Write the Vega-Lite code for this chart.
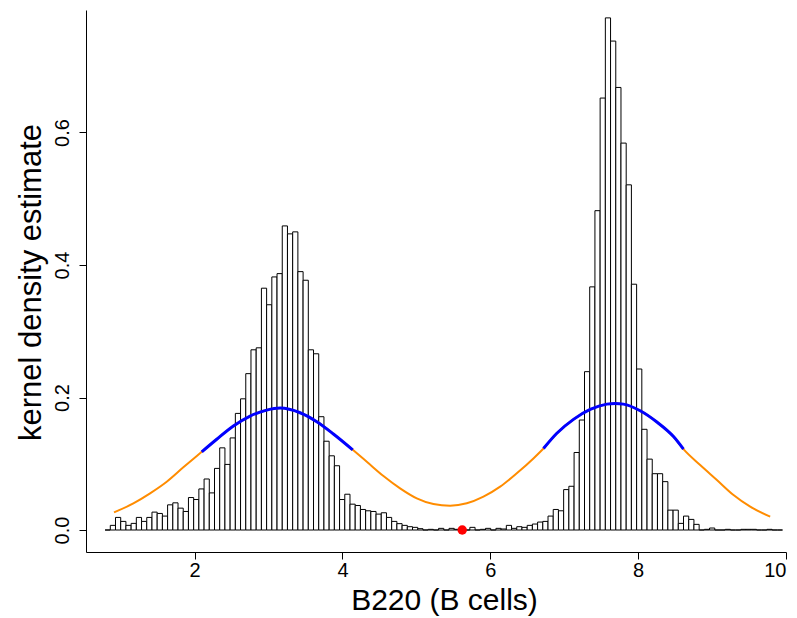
{
  "$schema": "https://vega.github.io/schema/vega-lite/v6.json",
  "width": 700,
  "height": 542,
  "autosize": {"type": "none"},
  "padding": {"left": 86, "top": 10, "right": 11, "bottom": 66},
  "background": "white",
  "config": {
    "view": {"stroke": null},
    "font": "Liberation Sans",
    "axis": {
      "domainColor": "black",
      "tickColor": "black",
      "labelColor": "black",
      "titleColor": "black",
      "labelFont": "Liberation Sans",
      "titleFont": "Liberation Sans",
      "titleFontWeight": "normal",
      "grid": false,
      "tickSize": 7,
      "domainWidth": 1,
      "tickWidth": 1
    }
  },
  "datasets": {
    "bins": [
      {"b0": 0.7880, "b1": 0.8585, "d": 0},
      {"b0": 0.8585, "b1": 0.9290, "d": 0.007},
      {"b0": 0.9290, "b1": 0.9995, "d": 0.019},
      {"b0": 0.9995, "b1": 1.0700, "d": 0.013},
      {"b0": 1.0700, "b1": 1.1405, "d": 0.007},
      {"b0": 1.1405, "b1": 1.2110, "d": 0.010},
      {"b0": 1.2110, "b1": 1.2815, "d": 0.019},
      {"b0": 1.2815, "b1": 1.3520, "d": 0.013},
      {"b0": 1.3520, "b1": 1.4225, "d": 0.019},
      {"b0": 1.4225, "b1": 1.4930, "d": 0.027},
      {"b0": 1.4930, "b1": 1.5635, "d": 0.025},
      {"b0": 1.5635, "b1": 1.6340, "d": 0.021},
      {"b0": 1.6340, "b1": 1.7045, "d": 0.038},
      {"b0": 1.7045, "b1": 1.7750, "d": 0.041},
      {"b0": 1.7750, "b1": 1.8455, "d": 0.033},
      {"b0": 1.8455, "b1": 1.9160, "d": 0.028},
      {"b0": 1.9160, "b1": 1.9865, "d": 0.049},
      {"b0": 1.9865, "b1": 2.0570, "d": 0.046},
      {"b0": 2.0570, "b1": 2.1275, "d": 0.062},
      {"b0": 2.1275, "b1": 2.1980, "d": 0.077},
      {"b0": 2.1980, "b1": 2.2685, "d": 0.056},
      {"b0": 2.2685, "b1": 2.3390, "d": 0.093},
      {"b0": 2.3390, "b1": 2.4095, "d": 0.124},
      {"b0": 2.4095, "b1": 2.4800, "d": 0.099},
      {"b0": 2.4800, "b1": 2.5505, "d": 0.139},
      {"b0": 2.5505, "b1": 2.6210, "d": 0.176},
      {"b0": 2.6210, "b1": 2.6915, "d": 0.198},
      {"b0": 2.6915, "b1": 2.7620, "d": 0.236},
      {"b0": 2.7620, "b1": 2.8325, "d": 0.272},
      {"b0": 2.8325, "b1": 2.9030, "d": 0.275},
      {"b0": 2.9030, "b1": 2.9735, "d": 0.365},
      {"b0": 2.9735, "b1": 3.0440, "d": 0.340},
      {"b0": 3.0440, "b1": 3.1145, "d": 0.382},
      {"b0": 3.1145, "b1": 3.1850, "d": 0.387},
      {"b0": 3.1850, "b1": 3.2555, "d": 0.459},
      {"b0": 3.2555, "b1": 3.3260, "d": 0.447},
      {"b0": 3.3260, "b1": 3.3965, "d": 0.450},
      {"b0": 3.3965, "b1": 3.4670, "d": 0.390},
      {"b0": 3.4670, "b1": 3.5375, "d": 0.377},
      {"b0": 3.5375, "b1": 3.6080, "d": 0.272},
      {"b0": 3.6080, "b1": 3.6785, "d": 0.266},
      {"b0": 3.6785, "b1": 3.7490, "d": 0.171},
      {"b0": 3.7490, "b1": 3.8195, "d": 0.134},
      {"b0": 3.8195, "b1": 3.8900, "d": 0.112},
      {"b0": 3.8900, "b1": 3.9605, "d": 0.097},
      {"b0": 3.9605, "b1": 4.0310, "d": 0.046},
      {"b0": 4.0310, "b1": 4.1015, "d": 0.054},
      {"b0": 4.1015, "b1": 4.1720, "d": 0.039},
      {"b0": 4.1720, "b1": 4.2425, "d": 0.037},
      {"b0": 4.2425, "b1": 4.3130, "d": 0.031},
      {"b0": 4.3130, "b1": 4.3835, "d": 0.029},
      {"b0": 4.3835, "b1": 4.4540, "d": 0.028},
      {"b0": 4.4540, "b1": 4.5245, "d": 0.024},
      {"b0": 4.5245, "b1": 4.5950, "d": 0.026},
      {"b0": 4.5950, "b1": 4.6655, "d": 0.019},
      {"b0": 4.6655, "b1": 4.7360, "d": 0.013},
      {"b0": 4.7360, "b1": 4.8065, "d": 0.0096},
      {"b0": 4.8065, "b1": 4.8770, "d": 0.007},
      {"b0": 4.8770, "b1": 4.9475, "d": 0.005},
      {"b0": 4.9475, "b1": 5.0180, "d": 0.004},
      {"b0": 5.0180, "b1": 5.0885, "d": 0.002},
      {"b0": 5.0885, "b1": 5.1590, "d": 0},
      {"b0": 5.1590, "b1": 5.2295, "d": 0.001},
      {"b0": 5.2295, "b1": 5.3000, "d": 0},
      {"b0": 5.3000, "b1": 5.3705, "d": 0.0025},
      {"b0": 5.3705, "b1": 5.4410, "d": 0},
      {"b0": 5.4410, "b1": 5.5115, "d": 0.0025},
      {"b0": 5.5115, "b1": 5.5820, "d": 0.001},
      {"b0": 5.5820, "b1": 5.6525, "d": 0},
      {"b0": 5.6525, "b1": 5.7230, "d": 0},
      {"b0": 5.7230, "b1": 5.7935, "d": 0.004},
      {"b0": 5.7935, "b1": 5.8640, "d": 0},
      {"b0": 5.8640, "b1": 5.9345, "d": 0.001},
      {"b0": 5.9345, "b1": 6.0050, "d": 0.0025},
      {"b0": 6.0050, "b1": 6.0755, "d": 0},
      {"b0": 6.0755, "b1": 6.1460, "d": 0.0025},
      {"b0": 6.1460, "b1": 6.2165, "d": 0.0015},
      {"b0": 6.2165, "b1": 6.2870, "d": 0.007},
      {"b0": 6.2870, "b1": 6.3575, "d": 0.0025},
      {"b0": 6.3575, "b1": 6.4280, "d": 0.005},
      {"b0": 6.4280, "b1": 6.4985, "d": 0.004},
      {"b0": 6.4985, "b1": 6.5690, "d": 0.007},
      {"b0": 6.5690, "b1": 6.6395, "d": 0.009},
      {"b0": 6.6395, "b1": 6.7100, "d": 0.012},
      {"b0": 6.7100, "b1": 6.7805, "d": 0.013},
      {"b0": 6.7805, "b1": 6.8510, "d": 0.021},
      {"b0": 6.8510, "b1": 6.9215, "d": 0.031},
      {"b0": 6.9215, "b1": 6.9920, "d": 0.029},
      {"b0": 6.9920, "b1": 7.0625, "d": 0.061},
      {"b0": 7.0625, "b1": 7.1330, "d": 0.066},
      {"b0": 7.1330, "b1": 7.2035, "d": 0.117},
      {"b0": 7.2035, "b1": 7.2740, "d": 0.166},
      {"b0": 7.2740, "b1": 7.3445, "d": 0.239},
      {"b0": 7.3445, "b1": 7.4150, "d": 0.367},
      {"b0": 7.4150, "b1": 7.4855, "d": 0.482},
      {"b0": 7.4855, "b1": 7.5560, "d": 0.652},
      {"b0": 7.5560, "b1": 7.6265, "d": 0.773},
      {"b0": 7.6265, "b1": 7.6970, "d": 0.738},
      {"b0": 7.6970, "b1": 7.7675, "d": 0.668},
      {"b0": 7.7675, "b1": 7.8380, "d": 0.584},
      {"b0": 7.8380, "b1": 7.9085, "d": 0.521},
      {"b0": 7.9085, "b1": 7.9790, "d": 0.371},
      {"b0": 7.9790, "b1": 8.0495, "d": 0.243},
      {"b0": 8.0495, "b1": 8.1200, "d": 0.152},
      {"b0": 8.1200, "b1": 8.1905, "d": 0.107},
      {"b0": 8.1905, "b1": 8.2610, "d": 0.085},
      {"b0": 8.2610, "b1": 8.3315, "d": 0.085},
      {"b0": 8.3315, "b1": 8.4020, "d": 0.073},
      {"b0": 8.4020, "b1": 8.4725, "d": 0.030},
      {"b0": 8.4725, "b1": 8.5430, "d": 0.030},
      {"b0": 8.5430, "b1": 8.6135, "d": 0.010},
      {"b0": 8.6135, "b1": 8.6840, "d": 0.021},
      {"b0": 8.6840, "b1": 8.7545, "d": 0.016},
      {"b0": 8.7545, "b1": 8.8250, "d": 0.0085},
      {"b0": 8.8250, "b1": 8.8955, "d": 0},
      {"b0": 8.8955, "b1": 8.9660, "d": 0.001},
      {"b0": 8.9660, "b1": 9.0365, "d": 0.003},
      {"b0": 9.0365, "b1": 9.1070, "d": 0},
      {"b0": 9.1070, "b1": 9.1775, "d": 0},
      {"b0": 9.1775, "b1": 9.2480, "d": 0.001},
      {"b0": 9.2480, "b1": 9.3185, "d": 0},
      {"b0": 9.3185, "b1": 9.3890, "d": 0},
      {"b0": 9.3890, "b1": 9.4595, "d": 0.001},
      {"b0": 9.4595, "b1": 9.5300, "d": 0.001},
      {"b0": 9.5300, "b1": 9.6005, "d": 0.001},
      {"b0": 9.6005, "b1": 9.6710, "d": 0},
      {"b0": 9.6710, "b1": 9.7415, "d": 0},
      {"b0": 9.7415, "b1": 9.8120, "d": 0.001},
      {"b0": 9.8120, "b1": 9.8825, "d": 0},
      {"b0": 9.8825, "b1": 9.9530, "d": 0}
    ],
    "curve": [
      {"x": 0.909, "y": 0.0267},
      {"x": 1.171, "y": 0.0403},
      {"x": 1.397, "y": 0.0554},
      {"x": 1.622, "y": 0.0729},
      {"x": 1.847, "y": 0.0946},
      {"x": 2.096, "y": 0.118},
      {"x": 2.299, "y": 0.137},
      {"x": 2.524, "y": 0.157},
      {"x": 2.750, "y": 0.172},
      {"x": 2.975, "y": 0.181},
      {"x": 3.156, "y": 0.184},
      {"x": 3.426, "y": 0.177},
      {"x": 3.652, "y": 0.1635},
      {"x": 3.877, "y": 0.145},
      {"x": 4.139, "y": 0.121},
      {"x": 4.329, "y": 0.103},
      {"x": 4.554, "y": 0.0815},
      {"x": 4.779, "y": 0.0629},
      {"x": 5.005, "y": 0.0478},
      {"x": 5.230, "y": 0.0392},
      {"x": 5.456, "y": 0.0367},
      {"x": 5.682, "y": 0.0403},
      {"x": 5.907, "y": 0.0503},
      {"x": 6.133, "y": 0.0654},
      {"x": 6.358, "y": 0.0856},
      {"x": 6.583, "y": 0.108},
      {"x": 6.719, "y": 0.123},
      {"x": 6.900, "y": 0.146},
      {"x": 7.125, "y": 0.167},
      {"x": 7.351, "y": 0.182},
      {"x": 7.576, "y": 0.190},
      {"x": 7.689, "y": 0.191},
      {"x": 7.801, "y": 0.190},
      {"x": 8.027, "y": 0.180},
      {"x": 8.253, "y": 0.163},
      {"x": 8.478, "y": 0.141},
      {"x": 8.613, "y": 0.122},
      {"x": 8.839, "y": 0.098},
      {"x": 9.065, "y": 0.0755},
      {"x": 9.290, "y": 0.0528},
      {"x": 9.516, "y": 0.0352},
      {"x": 9.786, "y": 0.0201}
    ],
    "peaks": [
      {"seg": "a", "x": 2.096, "y": 0.118},
      {"seg": "a", "x": 2.299, "y": 0.137},
      {"seg": "a", "x": 2.524, "y": 0.157},
      {"seg": "a", "x": 2.750, "y": 0.172},
      {"seg": "a", "x": 2.975, "y": 0.181},
      {"seg": "a", "x": 3.156, "y": 0.184},
      {"seg": "a", "x": 3.426, "y": 0.177},
      {"seg": "a", "x": 3.652, "y": 0.1635},
      {"seg": "a", "x": 3.877, "y": 0.145},
      {"seg": "a", "x": 4.139, "y": 0.121},
      {"seg": "b", "x": 6.719, "y": 0.123},
      {"seg": "b", "x": 6.900, "y": 0.146},
      {"seg": "b", "x": 7.125, "y": 0.167},
      {"seg": "b", "x": 7.351, "y": 0.182},
      {"seg": "b", "x": 7.576, "y": 0.190},
      {"seg": "b", "x": 7.689, "y": 0.191},
      {"seg": "b", "x": 7.801, "y": 0.190},
      {"seg": "b", "x": 8.027, "y": 0.180},
      {"seg": "b", "x": 8.253, "y": 0.163},
      {"seg": "b", "x": 8.478, "y": 0.141},
      {"seg": "b", "x": 8.613, "y": 0.122}
    ],
    "mode": [
      {"x": 5.62, "y": 0}
    ]
  },
  "layer": [
    {
      "data": {"name": "bins"},
      "mark": {"type": "rect", "fill": "white", "stroke": "black", "strokeWidth": 1},
      "encoding": {
        "x": {
          "field": "b0", "type": "quantitative",
          "scale": {"domain": [0.53, 10.0], "nice": false, "zero": false},
          "axis": {
            "values": [2, 4, 6, 8, 10],
            "format": "d",
            "labelFontSize": 20,
            "labelPadding": 1,
            "title": "B220 (B cells)",
            "titleFontSize": 30,
            "titleX": 358,
            "titleY": 57,
            "titleBaseline": "alphabetic"
          }
        },
        "x2": {"field": "b1"},
        "y": {
          "field": "d", "type": "quantitative",
          "scale": {"domain": [-0.0332, 0.7849], "nice": false, "zero": false},
          "axis": {
            "values": [0, 0.2, 0.4, 0.6],
            "format": ".1f",
            "labelFontSize": 20,
            "labelAngle": 270,
            "labelAlign": "center",
            "labelBaseline": "bottom",
            "labelPadding": 7,
            "title": "kernel density estimate",
            "titleFontSize": 31,
            "titleAngle": 270,
            "titleX": -46,
            "titleY": 272,
            "titleBaseline": "alphabetic",
            "titleAlign": "center"
          }
        },
        "y2": {"datum": 0}
      }
    },
    {
      "data": {"name": "curve"},
      "mark": {"type": "line", "color": "#FF8C00", "strokeWidth": 2, "interpolate": "monotone"},
      "encoding": {
        "x": {"field": "x", "type": "quantitative"},
        "y": {"field": "y", "type": "quantitative"}
      }
    },
    {
      "data": {"name": "peaks"},
      "mark": {"type": "line", "color": "#0000FF", "strokeWidth": 3, "interpolate": "monotone"},
      "encoding": {
        "x": {"field": "x", "type": "quantitative"},
        "y": {"field": "y", "type": "quantitative"},
        "detail": {"field": "seg"}
      }
    },
    {
      "data": {"name": "mode"},
      "mark": {"type": "point", "filled": true, "color": "#FF0000", "size": 90, "opacity": 1},
      "encoding": {
        "x": {"field": "x", "type": "quantitative"},
        "y": {"field": "y", "type": "quantitative"}
      }
    }
  ]
}
